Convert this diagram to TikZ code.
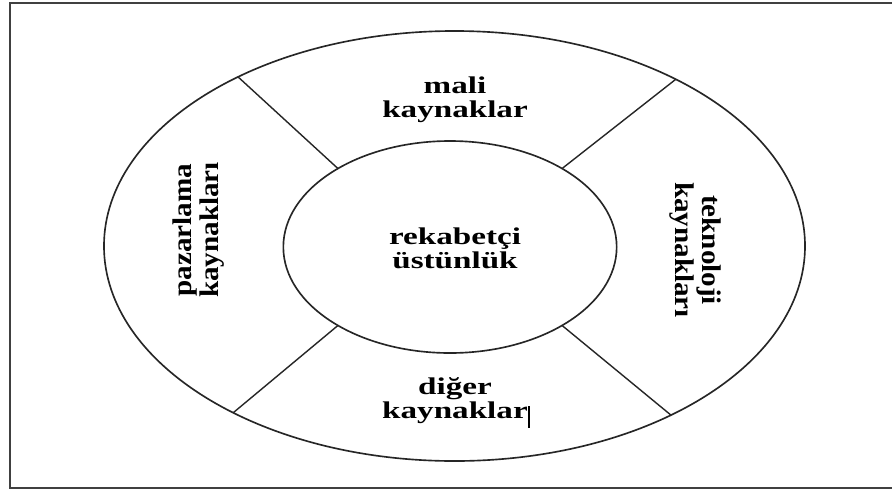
\documentclass[tikz,border=0pt]{standalone}
\usepackage{fontspec}
\setmainfont{Liberation Serif}
\newfontfamily\hfont[FakeStretch=1.38]{Liberation Serif}
\newfontfamily\vfont[FakeStretch=1.08]{Liberation Serif}
\usetikzlibrary{shapes.geometric}
\begin{document}
\begin{tikzpicture}[x=0.03cm,y=-0.03cm,
  ring/.style={draw=black!85, line width=1.4pt, ellipse, inner sep=0pt, outer sep=0pt},
  divider/.style={draw=black!85, line width=1.2pt},
  htext/.style={font=\hfont\bfseries\fontsize{20.5}{20.5}\selectfont, align=center, inner sep=0pt},
  vtext/.style={font=\vfont\bfseries\fontsize{23}{23}\selectfont, align=center, inner sep=0pt}]
\useasboundingbox (0,0) rectangle (892,493);
\fill[white] (0,0) rectangle (892,493);
\draw[gray!50!black, line width=1.6pt] (893,3) -- (10,3) -- (10,488) -- (893,488);
\node[ring, minimum width=21.03cm, minimum height=12.9cm] (outer) at (454.5,246) {};
\node[ring, minimum width=10.0cm, minimum height=6.36cm] (inner) at (450,247) {};
\draw[divider] (inner.145) -- (outer.142.4);
\draw[divider] (inner.35) -- (outer.37.6);
\draw[divider] (inner.215) -- (outer.217.6);
\draw[divider] (inner.325) -- (outer.322.4);
\node[htext] (mali) at (455,100) {mali\\kaynaklar};
\node[htext] (core) at (455,248) {rekabetçi\\üstünlük};
\node[htext] (diger) at (455,401) {diğer\\kaynaklar};
\node[vtext, rotate=90] (paz) at (199,230) {pazarlama\\kaynakları};
\node[vtext, rotate=-90] (tek) at (695,250) {teknoloji\\kaynakları};
\coordinate (c1) at (529,406);
\coordinate (c2) at (529,428);
\draw[line width=0.9pt] (c1) -- (c2);
\end{tikzpicture}
\end{document}
